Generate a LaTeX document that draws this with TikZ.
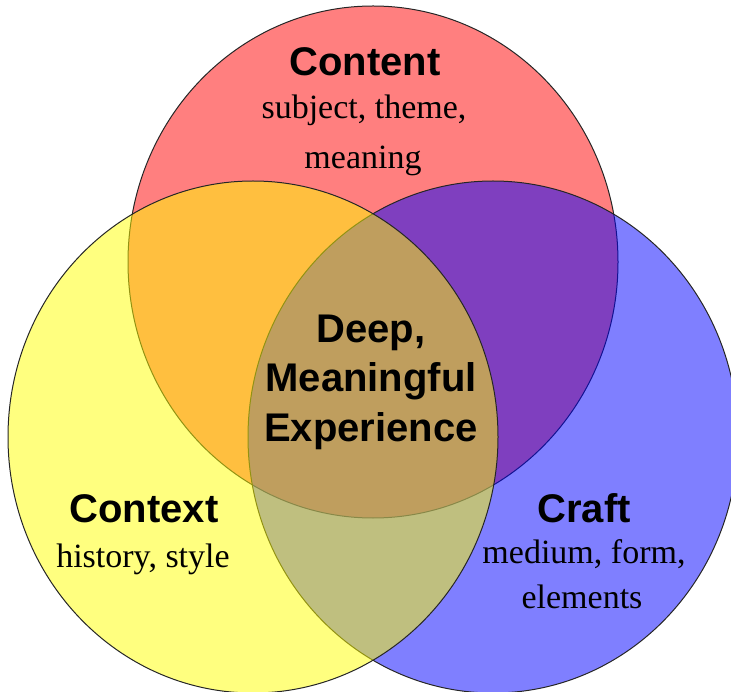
\documentclass[tikz,border=0pt]{standalone}
\usepackage{fontspec}
\setmainfont{Liberation Serif}
\newfontfamily\headfont{Liberation Sans}
\begin{document}
\begin{tikzpicture}[x=1pt,y=-1pt,
  setshape/.style={draw=black!85,line width=1pt,fill opacity=0.5},
  headtxt/.style={anchor=base,inner sep=0pt,font=\headfont\bfseries\fontsize{40}{48}\selectfont},
  subtxt/.style={anchor=base,inner sep=0pt,font=\fontsize{34}{40}\selectfont}]
  \useasboundingbox (0,0) rectangle (731,692);
  \clip (0,0) rectangle (731,692);
  % the three sets: red on the bottom, then blue, then yellow
  \draw[setshape,fill={rgb,255:red,255;green,0;blue,0}]
    (373,262) ellipse [x radius=245pt, y radius=256pt];
  \draw[setshape,fill={rgb,255:red,0;green,0;blue,255}]
    (493,437) ellipse [x radius=245pt, y radius=256pt];
  \draw[setshape,fill={rgb,255:red,255;green,255;blue,0}]
    (253,437) ellipse [x radius=245pt, y radius=256pt];
  % labels
  \node[headtxt] (content) at (365,76) {Content};
  \node[subtxt] (contentA) at (364,119) {subject, theme,};
  \node[subtxt] (contentB) at (363,169) {meaning};
  \node[headtxt] (deep) at (371,343) {Deep,};
  \node[headtxt] (meaningful) at (371,392) {Meaningful};
  \node[headtxt] (experience) at (371,442) {Experience};
  \node[headtxt] (context) at (144,522) {Context};
  \node[subtxt] (contextA) at (143,567) {history, style};
  \node[headtxt] (craft) at (584,522) {Craft};
  \node[subtxt] (craftA) at (584,563) {medium, form,};
  \node[subtxt] (craftB) at (582,608) {elements};
\end{tikzpicture}
\end{document}
